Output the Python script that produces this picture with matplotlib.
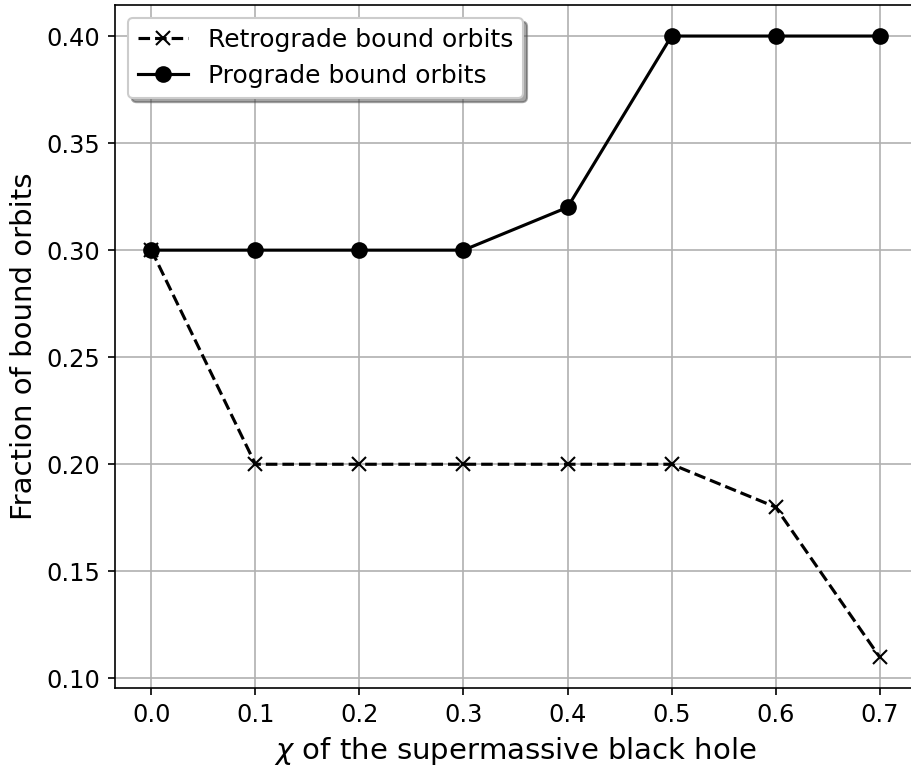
import matplotlib
matplotlib.use("Agg")
import matplotlib.pyplot as plt

chi = [0.0, 0.1, 0.2, 0.3, 0.4, 0.5, 0.6, 0.7]
retrograde = [0.30, 0.20, 0.20, 0.20, 0.20, 0.20, 0.18, 0.11]
prograde = [0.30, 0.30, 0.30, 0.30, 0.32, 0.40, 0.40, 0.40]

dpi = 150
fig = plt.figure(figsize=(911 / dpi, 765 / dpi), dpi=dpi)
ax = fig.add_axes([115 / 911, 77 / 765, 801 / 911, 683 / 765])

ax.plot(chi, retrograde, 'k--x', label='Retrograde bound orbits', markersize=7)
ax.plot(chi, prograde, 'k-o', label='Prograde bound orbits', markersize=7)
ax.grid(True)
ax.tick_params(labelsize=11.5)
ax.set_xlabel(r'$\chi$ of the supermassive black hole', fontsize=14)
ax.set_ylabel('Fraction of bound orbits', fontsize=14)
ax.set_xticks(chi)
ax.legend(loc='upper left', fontsize=12, shadow=True)

fig.savefig('out.png', dpi=dpi)
